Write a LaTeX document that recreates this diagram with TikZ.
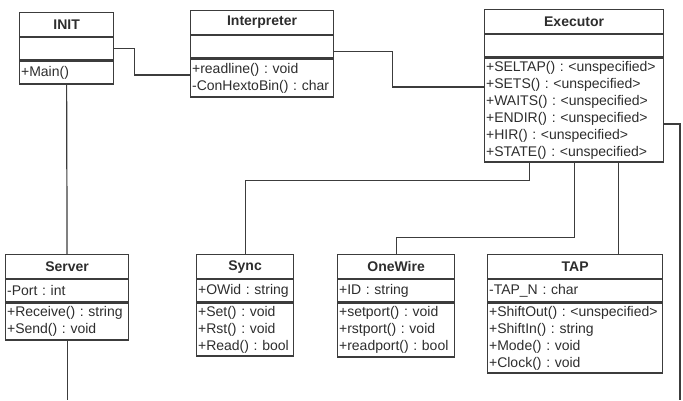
\documentclass[tikz,border=0pt]{standalone}
\usepackage{fontspec}
\setmainfont{Liberation Sans}
\usepackage{tikz}
\usetikzlibrary{
  positioning,
  calc
}
\definecolor{linegray}{RGB}{60,60,60}
\definecolor{textgray}{RGB}{45,45,45}
\frenchspacing

\begin{document}
\begin{tikzpicture}[
  x=1pt, y=-1pt,
  font=\fontsize{14}{17}\selectfont,
  classpart/.style={
    draw=linegray,
    line width=1.2pt,
    inner xsep=1.5pt,
    inner ysep=0pt,
    text=textgray,
    text width=#1
  },
  classhead/.style={
    classpart=#1,
    align=center,
    minimum height=24pt,
    font=\fontsize{14}{17}\selectfont\bfseries
  },
  classattr/.style={
    classpart=#1,
    align=left,
    minimum height=22pt
  },
  classops/.style={
    classpart=#1,
    align=left
  },
  link/.style={
    draw=linegray,
    line width=1.2pt
  }
]
\useasboundingbox (0,0) rectangle (683,400);

% top row
\node[classhead=91pt, anchor=north west] (inithead) at (19,12) {INIT};
\node[classattr=91pt, below=0pt of inithead] (initattr) {};
\node[classops=91pt, minimum height=23pt, below=0pt of initattr] (initops) {+Main()};

\node[classhead=140pt, anchor=north west] (interhead) at (190,10) {Interpreter};
\node[classattr=140pt, below=0pt of interhead] (interattr) {};
\node[classops=140pt, minimum height=38pt, below=0pt of interattr] (interops)
  {+readline() : void\\-ConHextoBin() : char};

\node[classhead=176pt, anchor=north west] (exechead) at (484,9) {Executor};
\node[classattr=176pt, below=0pt of exechead] (execattr) {};
\node[classops=176pt, minimum height=104pt, below=0pt of execattr] (execops)
  {+SELTAP() : <unspecified>\\+SETS() : <unspecified>\\+WAITS() : <unspecified>\\
   +ENDIR() : <unspecified>\\+HIR() : <unspecified>\\+STATE() : <unspecified>};

% bottom row
\node[classhead=120pt, anchor=north west] (serverhead) at (5,254) {Server};
\node[classattr=120pt, below=0pt of serverhead] (serverattr) {-Port : int};
\node[classops=120pt, minimum height=37pt, below=0pt of serverattr] (serverops)
  {+Receive() : string\\+Send() : void};

\node[classhead=94pt, anchor=north west] (synchead) at (196,254) {Sync};
\node[classattr=94pt, below=0pt of synchead] (syncattr) {+OWid : string};
\node[classops=94pt, minimum height=53pt, below=0pt of syncattr] (syncops)
  {+Set() : void\\+Rst() : void\\+Read() : bool};

\node[classhead=114pt, anchor=north west] (onewirehead) at (337,254) {OneWire};
\node[classattr=114pt, below=0pt of onewirehead] (onewireattr) {+ID : string};
\node[classops=114pt, minimum height=54pt, below=0pt of onewireattr] (onewireops)
  {+setport() : void\\+rstport() : void\\+readport() : bool};

\node[classhead=172pt, anchor=north west] (taphead) at (487,254) {TAP};
\node[classattr=172pt, below=0pt of taphead] (tapattr) {-TAP\_N : char};
\node[classops=172pt, minimum height=70pt, below=0pt of tapattr] (tapops)
  {+ShiftOut() : <unspecified>\\+ShiftIn() : string\\+Mode() : void\\+Clock() : void};

% free ends at the lower edge
\coordinate (serverend) at (66.5,400);
\coordinate (execend) at (680,400);

% connectors
\draw[link] (initattr.east) -- ++(20,0) |- ([yshift=3pt]interops.west);
\draw[link] ([yshift=-5pt]interattr.east) -- ++(58,0) |- ([yshift=23pt]execops.west);
\draw[link] (initops.south) -- (serverhead.north);
\draw[link] (serverops.south) -- (serverops.south |- serverend);
\draw[link] ([xshift=-44.5pt]execops.south) -- ++(0,18) -| (synchead.north);
\draw[link] (execops.south) -- ++(0,75) -| (onewirehead.north);
\draw[link] ([xshift=44.5pt]execops.south) coordinate (tapjoin) -- (tapjoin |- taphead.north);
\draw[link] ([yshift=-14pt]execops.east) -| (execend);

\end{tikzpicture}
\end{document}
